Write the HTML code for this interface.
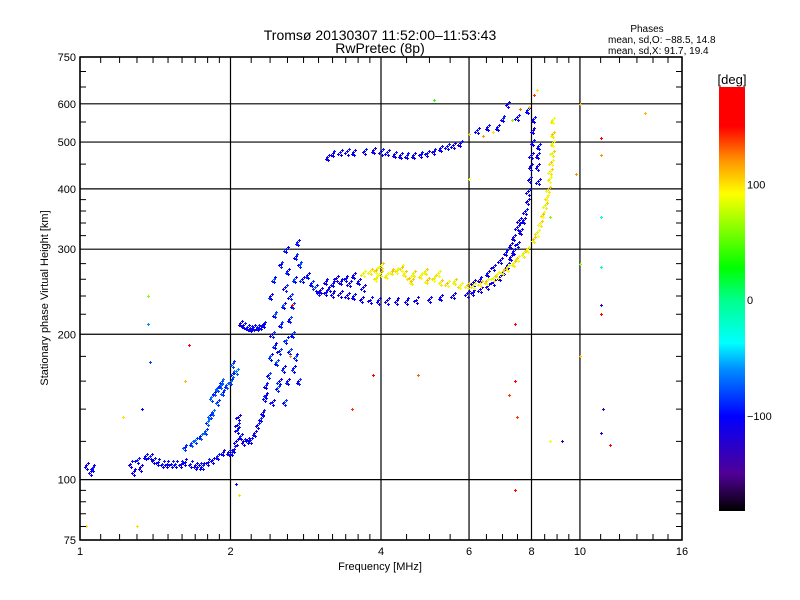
<!DOCTYPE html>
<html><head><meta charset="utf-8">
<style>
html,body{margin:0;padding:0;background:#fff;}
svg{display:block;font-family:"Liberation Sans",sans-serif;}
</style></head>
<body>
<svg id="chart" width="800" height="600" viewBox="0 0 800 600">
  <rect x="0" y="0" width="800" height="600" fill="#fff"/>
  <text x="380" y="40" font-size="14" text-anchor="middle">Tromsø 20130307 11:52:00–11:53:43</text>
  <text x="380" y="53" font-size="14" text-anchor="middle">RwPretec (8p)</text>
  <g font-size="10">
    <text x="647" y="32" text-anchor="middle">Phases</text>
    <text x="608" y="43">mean, sd,O: −88.5, 14.8</text>
    <text x="608" y="54">mean, sd,X:  91.7, 19.4</text>
  </g>
  <g id="grid"></g>
  <g id="marks" shape-rendering="crispEdges"></g>
  <rect x="80" y="57" width="602" height="483" fill="none" stroke="#000" stroke-width="1.5"/>
  <g id="ticks"></g>
  <text x="380" y="570" font-size="11" text-anchor="middle">Frequency [MHz]</text>
  <text transform="translate(48,298) rotate(-90)" font-size="11" text-anchor="middle">Stationary phase Virtual Height [km]</text>
  <defs><linearGradient id="cb" x1="0" y1="1" x2="0" y2="0"></linearGradient></defs>
  <rect x="719" y="87" width="26" height="424" fill="url(#cb)"/>
  <text x="732" y="84" font-size="13" text-anchor="middle">[deg]</text>
  <g id="cbticks" font-size="11"></g>
</svg>
<script>
// ---- data ----
const xMajorTicks = [1, 2, 4, 6, 8, 10, 16];
const xMinorTicks = [1.1,1.2,1.3,1.4,1.5,1.6,1.7,1.8,1.9,2.2,2.4,2.6,2.8,3,3.2,3.4,3.6,3.8,4.5,5,5.5,6.5,7,7.5,8.5,9,9.5,11,12,13,14,15];
const yMajorTicks = [75, 100, 200, 300, 400, 500, 600, 750];
const yMinorTicks = [80,85,90,95,120,140,160,180,220,240,260,280,320,340,360,380,450,550,650,700];
const colorbarTicks = [100, 0, -100];
const phaseRange = [-182, 184];

const lowOTrace = [[1.03,107],[1.05,104],[1.06,106],[1.26,108],[1.28,104],[1.30,110],[1.32,106],[1.35,112],[1.38,112],[1.40,110],[1.43,109],[1.46,108],[1.49,108],[1.52,108],[1.55,108],[1.59,108],[1.62,109],[1.66,108],[1.70,107],[1.73,107],[1.76,107],[1.80,109],[1.84,110],[1.88,112],[1.93,114],[1.98,114],[2.01,114],[2.03,116],[2.05,120],[2.06,127],[2.07,135],[2.06,130],[2.09,123],[2.12,120],[2.16,121],[2.19,121],[2.23,125],[2.26,130],[2.30,134],[2.32,138],[2.34,148],[2.35,157]];
const lowOPhase = -105;
const midTrace = [[1.62,117],[1.67,119],[1.70,121],[1.74,123],[1.78,126],[1.80,132],[1.82,136],[1.84,138],[1.83,148],[1.86,152],[1.88,155],[1.91,157],[1.93,152],[1.96,157],[2.00,160],[2.02,166],[2.02,174],[2.05,168],[1.88,145],[1.92,160]];
const midPhase = -80;
const cuspTrace = [[2.09,211],[2.12,209],[2.16,207],[2.19,206],[2.22,207],[2.26,207],[2.30,208],[2.33,210]];
const cloudTrace = [[2.35,150],[2.38,165],[2.40,180],[2.42,200],[2.45,190],[2.47,175],[2.50,160],[2.52,210],[2.55,230],[2.57,250],[2.60,270],[2.45,220],[2.40,240],[2.50,185],[2.58,195],[2.62,215],[2.55,170],[2.48,155],[2.60,160],[2.63,240],[2.44,260],[2.52,280],[2.58,300],[2.56,145],[2.42,145],[2.66,230],[2.68,260],[2.70,290],[2.72,310],[2.75,280],[2.78,260],[2.66,200],[2.70,180],[2.73,160],[2.67,170],[2.62,185],[2.85,265],[2.9,255],[2.95,250],[3.0,245]];
const cloudPhase = -95;
const fLowO = [[3.02,247],[3.1,245],[3.2,243],[3.31,243],[3.42,241],[3.52,240],[3.65,237],[3.80,236],[3.95,235],[4.11,235],[4.3,235],[4.5,235],[4.7,236],[5.0,237],[5.25,239],[5.57,241],[5.94,243],[6.1,245],[6.31,248],[6.52,252],[6.7,257],[6.9,263],[7.02,270],[7.15,278],[7.25,289],[7.35,297],[7.48,308],[7.59,327],[7.7,345],[7.76,360],[7.84,378],[7.87,395],[7.92,420],[7.95,445],[7.98,470],[8.02,500],[8.04,530],[8.06,558],[8.21,445],[8.22,470],[8.24,415],[8.25,490]];
const fUpperO = [[6.11,256],[6.3,260],[6.52,268],[6.7,276],[6.92,285],[7.1,296],[7.25,306],[7.35,318],[7.48,333],[7.55,345],[3.1,258],[3.2,255],[3.25,262],[3.32,258],[3.4,262],[3.45,255],[3.52,265],[3.6,258],[3.68,250],[3.15,250]];
const fPhaseO = -108;
const fXTrace = [[3.68,268],[3.8,270],[3.9,272],[3.98,268],[4.1,265],[4.2,270],[4.3,272],[4.45,268],[4.55,262],[4.64,268],[4.8,265],[4.94,259],[5.1,262],[5.25,257],[5.42,255],[5.6,258],[5.75,253],[5.94,253],[6.11,253],[6.31,255],[6.5,258],[6.7,262],[6.83,266],[7.0,270],[7.15,275],[7.35,281],[7.5,288],[7.7,294],[7.85,300],[8.06,315],[8.2,325],[8.32,340],[8.42,355],[8.51,370],[8.58,385],[8.63,400],[8.68,420],[8.71,435],[8.75,455],[8.79,475],[8.80,498],[8.80,520],[8.81,555],[4.0,278],[4.4,275],[4.9,270],[5.2,268],[4.6,258],[3.9,262]];
const fXPhase = 95;
const upperTrace = [[3.12,466],[3.2,474],[3.31,477],[3.42,478],[3.52,477],[3.7,480],[3.86,481],[4.0,478],[4.11,477],[4.25,472],[4.37,470],[4.5,470],[4.64,470],[4.8,473],[4.94,475],[5.1,480],[5.25,486],[5.42,490],[5.57,493],[5.75,498],[6.22,530],[6.52,537],[6.83,537],[7.0,560],[7.15,600],[7.48,563],[7.84,583]];
const upperPhase = -105;
const colouredPoints = [[6.0,520,110],[6.4,515,120],[6.7,525,100],[7.3,555,60],[7.6,585,130],[7.9,590,110],[8.1,625,140],[8.2,640,100],[1.37,240,60],[1.37,210,-60],[1.38,175,-80],[1.65,190,150],[1.62,160,110],[1.22,135,100],[1.33,140,-100],[2.05,98,-100],[2.08,93,100],[2.65,230,150],[2.63,180,120],[3.85,165,150],[4.75,165,130],[3.5,140,140],[7.4,95,160],[7.4,210,160],[7.4,160,160],[7.5,135,140],[7.2,150,140],[8.7,350,60],[8.7,120,90],[9.2,120,-130],[10.0,280,60],[10.0,180,110],[11.0,510,150],[11.0,470,120],[11.0,350,-30],[11.0,275,-20],[11.0,230,-130],[11.0,220,150],[11.1,140,-130],[11.0,125,-120],[11.5,118,150],[13.5,575,110],[10.0,600,110],[9.8,430,120],[1.03,80,100],[1.3,80,100],[5.1,610,40],[6.0,420,90]];

// ---- axes ----
const X0=80, X1=682, Y0=540, Y1=57;
const xs = f => X0 + (Math.log(f)/Math.log(16))*(X1-X0);
const ys = h => Y0 - (Math.log(h/75)/Math.log(10))*(Y0-Y1);
const stops = [[-182,[0,0,0]],[-150,[80,0,150]],[-100,[0,0,255]],[-60,[0,140,255]],[-37,[0,255,255]],[0,[0,255,140]],[28,[0,255,0]],[92,[255,255,0]],[120,[255,150,0]],[150,[255,0,0]],[184,[255,0,0]]];
function pcol(p){
  p=Math.max(phaseRange[0],Math.min(phaseRange[1],p));
  for(let i=0;i<stops.length-1;i++){const a=stops[i],b=stops[i+1];
    if(p<=b[0]){const t=(p-a[0])/(b[0]-a[0]);const c=a[1].map((v,k)=>Math.round(v+(b[1][k]-v)*t));return `rgb(${c.join(',')})`;}}
  return 'rgb(255,0,0)';
}
const NS='http://www.w3.org/2000/svg';
function mk(tag,attrs,parent){const e=document.createElementNS(NS,tag);for(const k in attrs)e.setAttribute(k,attrs[k]);parent.appendChild(e);return e;}
const grid=document.getElementById('grid'), ticks=document.getElementById('ticks'), marks=document.getElementById('marks');

xMajorTicks.forEach(f=>{const x=xs(f);
  const l=mk('line',{x1:x,x2:x,y1:Y1,y2:Y0,stroke:'#000','stroke-width':1.2},grid);
  
  
  const t=mk('text',{x:x,y:555,'font-size':11,'text-anchor':'middle'},ticks);t.textContent=f;
  
  
});
yMajorTicks.forEach(h=>{const y=ys(h);
  const l=mk('line',{x1:X0,x2:X1,y1:y,y2:y,stroke:'#000','stroke-width':1.2},grid);
  
  
  const t=mk('text',{x:76,y:y+4,'font-size':11,'text-anchor':'end'},ticks);t.textContent=h;
  
  
});
xMinorTicks.forEach(f=>{const x=xs(f);
  const a=mk('path',{d:`M${x} ${Y0}v-6M${x} ${Y1}v6`,stroke:'#000','stroke-width':1},ticks);
  
  
});
yMinorTicks.forEach(h=>{const y=ys(h);
  const a=mk('path',{d:`M${X0} ${y}h6M${X1} ${y}h-6`,stroke:'#000','stroke-width':1},ticks);
  
  
});

function plus(f,h,p){const x=Math.round(xs(f)),y=Math.round(ys(h));const c=pcol(p);
  const e=mk('path',{d:`M${x-1} ${y}h3v1h-3zM${x} ${y-1}h1v3h-1z`,fill:c},marks);
  
  
}
function trace(arr,p,jit){arr.forEach((d,i)=>{
  plus(d[0],d[1],p+((i%3)-1)*jit);
  plus(d[0]*1.008,d[1]*1.01,p+((i%2)?12:-8));
  plus(d[0]*0.993,d[1]*0.992,p+((i%2)?-10:6));
  plus(d[0]*1.003,d[1]*0.985,p+((i%2)?4:-4));
});}
trace(lowOTrace,lowOPhase,15);
trace(midTrace,midPhase,15);
trace(cuspTrace,lowOPhase,10);
trace(cloudTrace,cloudPhase,20);
trace(fLowO,fPhaseO,10);
trace(fUpperO,fPhaseO,12);
trace(fXTrace,fXPhase,15);
trace(upperTrace,upperPhase,12);
colouredPoints.forEach(d=>plus(d[0],d[1],d[2]));

// colorbar
const g=document.getElementById('cb');
stops.forEach(s=>{mk('stop',{offset:(s[0]-phaseRange[0])/(phaseRange[1]-phaseRange[0]),'stop-color':`rgb(${s[1].join(',')})`},g);});
const cbY=p=>511-(p-phaseRange[0])/(phaseRange[1]-phaseRange[0])*424;
const cbt=document.getElementById('cbticks');
colorbarTicks.forEach(v=>{const t=mk('text',{x:747,y:cbY(v)+4},cbt);t.textContent=v<0?'−'+Math.abs(v):v;
  
  
});
</script>
</body></html>
